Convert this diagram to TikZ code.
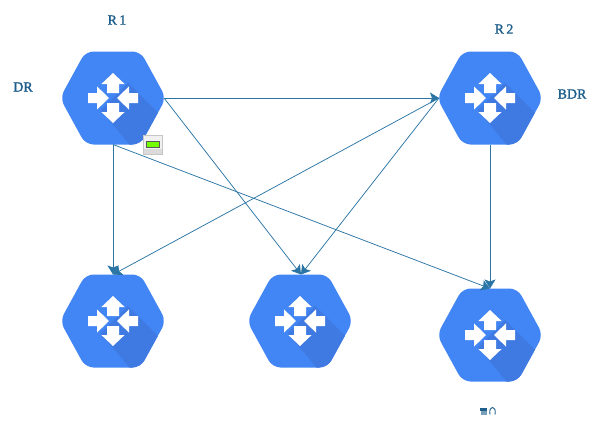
\documentclass[tikz,border=0pt]{standalone}
\usepackage{fontspec}
\setmainfont[FakeBold=1.5]{Liberation Serif}
\usetikzlibrary{arrows.meta}
\definecolor{hexblue}{HTML}{4285F4}
\definecolor{hexdark}{HTML}{3F7AE2}
\definecolor{linkblue}{HTML}{2B75A5}
\definecolor{labelblue}{HTML}{1F5F8B}
\tikzset{
  routerbox/.style={minimum width=102pt,minimum height=93pt,inner sep=0pt,outer sep=0pt},
  link/.style={draw=linkblue,line width=0.75pt,-{Stealth[length=9pt,width=11pt,inset=2pt]}},
  lbl/.style={text=labelblue,font=\fontsize{14}{14}\selectfont,inner sep=0pt}
}
\newcommand{\routericon}[1]{%
  \begin{scope}[shift={(#1)}]
    \begin{scope}
      \clip[rounded corners=8pt] (-53,0)--(-27.5,-46.5)--(27.5,-46.5)--(53,0)--(27.5,46.5)--(-27.5,46.5)--cycle;
      \fill[hexblue] (-55,-48) rectangle (55,48);
      \fill[hexdark] (15,-15)--(72,42)--(30,63)--(-12,12)--cycle;
    \end{scope}
    \fill[white] (0,-25)--(11.6,-14)--(6,-14)--(6,-5)--(-6,-5)--(-6,-14)--(-11.6,-14)--cycle;
    \fill[white] (0,25)--(11.6,14)--(6,14)--(6,5)--(-6,5)--(-6,14)--(-11.6,14)--cycle;
    \fill[white] (-4,0)--(-16,-11.6)--(-16,-5)--(-25,-5)--(-25,5)--(-16,5)--(-16,11.6)--cycle;
    \fill[white] (4,0)--(16,-11.6)--(16,-5)--(25,-5)--(25,5)--(16,5)--(16,11.6)--cycle;
  \end{scope}}
\begin{document}
\begin{tikzpicture}[x=1pt,y=-1pt]
\useasboundingbox (0,0) rectangle (596,439);
\routericon{113,98}
\routericon{490,98}
\routericon{113,321}
\routericon{300,321}
\routericon{490,335}
\node[routerbox] (r1) at (113,98) {};
\node[routerbox] (r2) at (490,98) {};
\node[routerbox] (a) at (113,321) {};
\node[routerbox] (b) at (301,321) {};
\node[routerbox] (c) at (490,335) {};
\draw[link] (r1.east) -- (r2.west);
\draw[link] (r1.east) -- (b.north);
\draw[link] (r1.south) -- (a.north);
\draw[link] (r1.south) -- (c.north);
\draw[link] (r2.west) -- (a.north);
\draw[link] (r2.west) -- (b.north);
\draw[link] (r2.south) -- (c.north);
\node[lbl] (t1) at (117,20) {R\,1};
\node[lbl] (t2) at (23,87) {DR};
\node[lbl] (t3) at (504,29) {R\,2};
\node[lbl] (t4) at (572,94) {BDR};
% small status icon
\fill[gray!12] (143,135) rectangle (162,154);
\draw[gray!45,line width=0.6pt] (143,135) rectangle (162,154);
\fill[gray!28] (143.5,148.5) rectangle (161.5,153.5);
\fill[green!55!yellow] (146,141) rectangle (159,147);
\draw[gray!70!black,line width=0.4pt] (146,141) rectangle (159,147);
% small smudge below the last router
\fill[labelblue] (480,407.5) rectangle (487,411);
\fill[labelblue!60] (481,411) rectangle (487,414.5);
\draw[labelblue,line width=0.9pt] (490,414.5) .. controls (488,405) and (497,405) .. (495,414.5);
\end{tikzpicture}
\end{document}
